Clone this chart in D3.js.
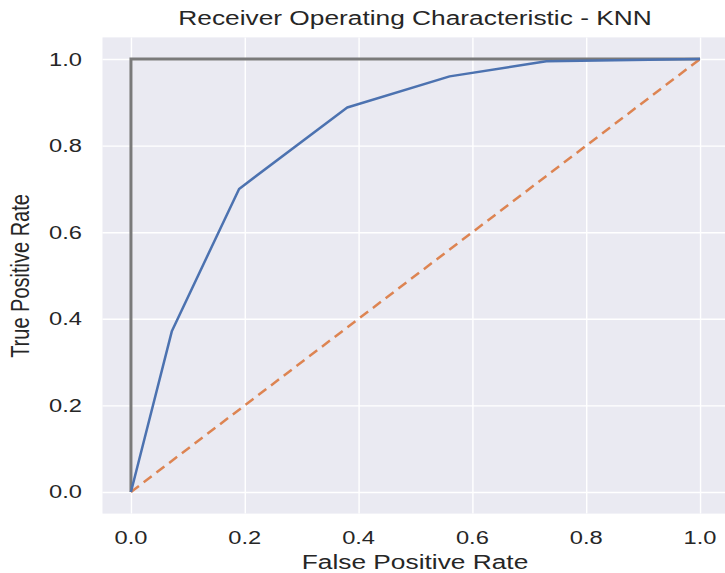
<!DOCTYPE html>
<html>
<head>
<meta charset="utf-8">
<script src="https://cdn.jsdelivr.net/npm/d3@7"></script>
<style>
  body { margin: 0; background: #fff; }
  text { font-family: "Liberation Sans", Arial, sans-serif; fill: #262626; }
</style>
</head>
<body>
<script>
// ROC curve points (false positive rate, true positive rate)
var fpr = [0, 0.072, 0.19, 0.38, 0.56, 0.73, 1.0];
var tpr = [0, 0.372, 0.70, 0.888, 0.96, 0.995, 1.0];
// perfect classifier and chance line
var perfectX = [0, 0, 1];
var perfectY = [0, 1, 1];
var chanceX = [0, 1];
var chanceY = [0, 1];
var tickValues = [0, 0.2, 0.4, 0.6, 0.8, 1.0];

var W = 725, H = 573;
var sx = 1.315; // picture is stretched sideways

var svg = d3.select("body").append("svg")
    .attr("width", W)
    .attr("height", H);

var x = d3.scaleLinear().domain([-0.05, 1.05]).range([102.5, 728.5]);
var y = d3.scaleLinear().domain([-0.05, 1.05]).range([513.6, 37.4]);

//plot background
svg.append("rect")
    .attr("x", x(-0.05))
    .attr("y", y(1.05))
    .attr("width", x(1.05) - x(-0.05))
    .attr("height", y(-0.05) - y(1.05))
    .style("fill", "#EAEAF2");

//grid lines through the axes
var xAxis = d3.axisBottom(x).tickValues(tickValues).tickSize(-(y(-0.05) - y(1.05))).tickFormat(d3.format(".1f"));
var yAxis = d3.axisLeft(y).tickValues(tickValues).tickSize(-(x(1.05) - x(-0.05))).tickFormat(d3.format(".1f"));

var gx = svg.append("g").attr("transform", "translate(0," + y(-0.05) + ")").call(xAxis);
var gy = svg.append("g").attr("transform", "translate(" + x(-0.05) + ",0)").call(yAxis);
[gx, gy].forEach(function(g){
    g.select(".domain").remove();
    g.selectAll(".tick line").style("stroke", "#fff").style("stroke-width", 1.4);
    g.selectAll(".tick text").remove();
});

//tick labels, stretched like the picture
tickValues.forEach(function(v){
    svg.append("g")
        .attr("transform", "translate(" + x(v) + ",544) scale(" + sx + ",1)")
        .append("text")
        .attr("text-anchor", "middle")
        .style("font-size", "18px")
        .text(d3.format(".1f")(v));
    svg.append("g")
        .attr("transform", "translate(82," + (y(v) + 6.5) + ") scale(" + sx + ",1)")
        .append("text")
        .attr("text-anchor", "end")
        .style("font-size", "18px")
        .text(d3.format(".1f")(v));
});

var line = d3.line()
    .x(function(d){ return x(d[0]); })
    .y(function(d){ return y(d[1]); });

svg.append("path")
    .datum(d3.zip(perfectX, perfectY))
    .attr("d", line)
    .style("fill", "none")
    .style("stroke", "#7a7a7a")
    .style("stroke-width", 3);

svg.append("path")
    .datum(d3.zip(chanceX, chanceY))
    .attr("d", line)
    .style("fill", "none")
    .style("stroke", "#DD8452")
    .style("stroke-width", 2.5)
    .style("stroke-dasharray", "10,6");

svg.append("path")
    .datum(d3.zip(fpr, tpr))
    .attr("d", line)
    .style("fill", "none")
    .style("stroke", "#4C72B0")
    .style("stroke-width", 2.5)
    .style("stroke-linejoin", "round");

//title and axis labels
svg.append("g")
    .attr("transform", "translate(415,25) scale(" + sx + ",1)")
    .append("text")
    .attr("text-anchor", "middle")
    .style("font-size", "20px")
    .text("Receiver Operating Characteristic - KNN");

svg.append("g")
    .attr("transform", "translate(415,569) scale(" + sx + ",1)")
    .append("text")
    .attr("text-anchor", "middle")
    .style("font-size", "20px")
    .text("False Positive Rate");

svg.append("g")
    .attr("transform", "translate(29,276) scale(" + sx + ",1) rotate(-90)")
    .append("text")
    .attr("text-anchor", "middle")
    .style("font-size", "20px")
    .text("True Positive Rate");
</script>
</body>
</html>
